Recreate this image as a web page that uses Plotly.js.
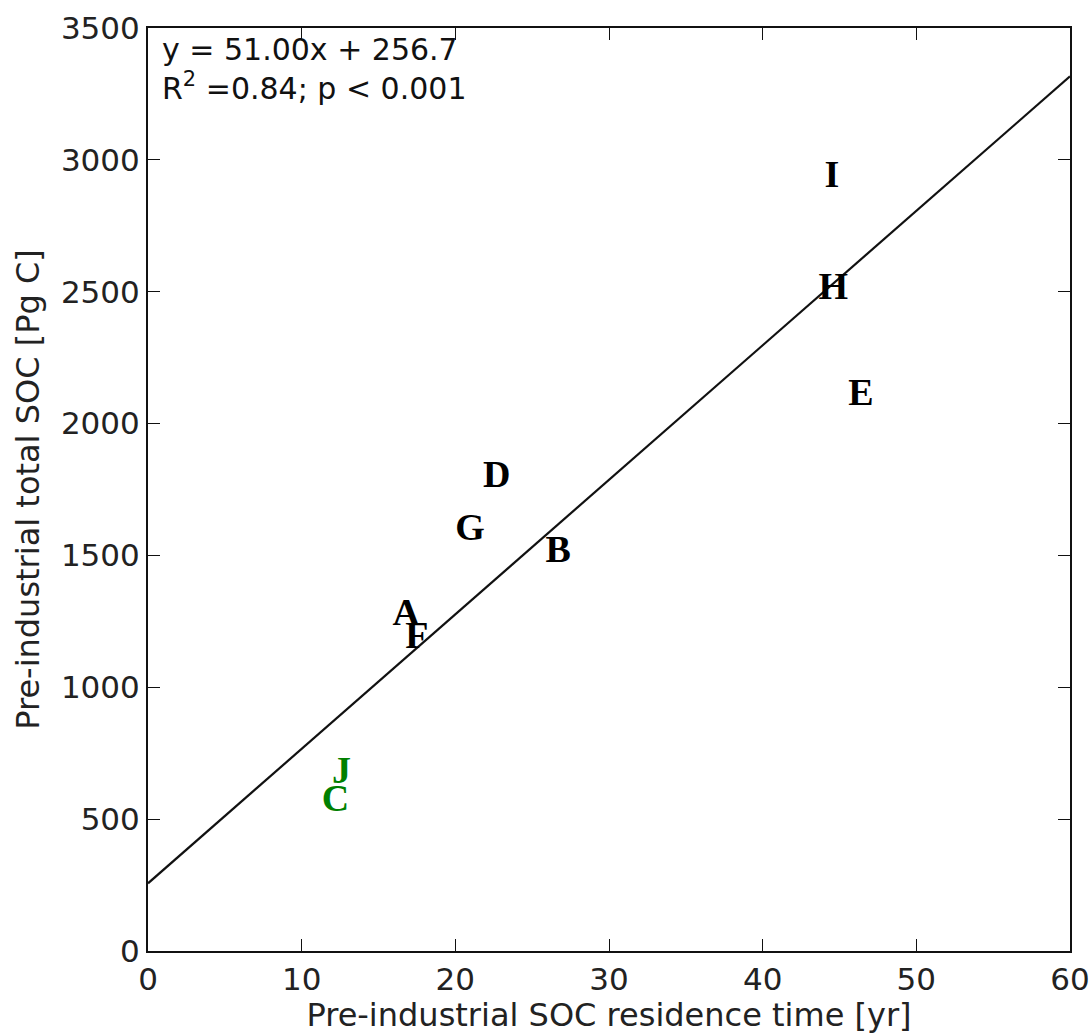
<!DOCTYPE html>
<html><head><meta charset="utf-8">
<script src="https://cdn.plot.ly/plotly-3.0.1.min.js"></script>
<style>body{margin:0;background:#fff}#chart{width:1089px;height:1034px}</style>
</head><body><div id="chart"></div>
<script>
const labels = ["A","B","C","D","E","F","G","H","I","J"];
const residence = [16.8, 26.7, 12.2, 22.7, 46.4, 17.5, 20.95, 44.6, 44.5, 12.6];
const totalSOC = [1273, 1512, 566, 1796, 2106, 1186, 1595, 2510, 2933, 674];
const colors = ["black","black","green","black","black","black","black","black","black","green"];
const slope = 51.00, intercept = 256.7;
const fitX = [0, 60];
const fitY = fitX.map(x => slope * x + intercept);

const tickFont = {family: "DejaVu Sans", size: 31, color: "#222"};
const titleFont = {family: "DejaVu Sans", size: 32, color: "#222"};
const annFont = {family: "DejaVu Sans", size: 30, color: "#111"};
const traces = [
  {x: fitX, y: fitY, mode: "lines", line: {color: "#111", width: 2.2}, hoverinfo: "skip"},
  {x: residence, y: totalSOC, mode: "text", text: labels, textposition: "middle center",
   textfont: {family: "Liberation Serif", size: 38, color: colors, weight: "bold"}}
];
const axisCommon = {showgrid: false, zeroline: false, showline: true, mirror: "ticks",
  linecolor: "#111", linewidth: 2, ticks: "inside", ticklen: 12, tickwidth: 1, tickcolor: "#111",
  tickfont: tickFont, ticklabeloverflow: "allow"};
const layout = {
  width: 1089, height: 1034, showlegend: false,
  paper_bgcolor: "#fff", plot_bgcolor: "#fff",
  margin: {l: 148, r: 19, t: 28, b: 83},
  xaxis: Object.assign({}, axisCommon, {range: [0, 60], dtick: 10,
    title: {text: "Pre-industrial SOC residence time [yr]", font: titleFont, standoff: 8}}),
  yaxis: Object.assign({}, axisCommon, {range: [0, 3500], dtick: 500,
    title: {text: "Pre-industrial total SOC [Pg C]", font: titleFont, standoff: 12}}),
  annotations: [
    {xref: "paper", yref: "paper", x: 0.013, y: 0.998, xanchor: "left", yanchor: "top", showarrow: false,
     align: "left", font: annFont,
     text: "y = 51.00x + 256.7<br>R<sup>2</sup> =0.84; p < 0.001"}
  ]
};
Plotly.newPlot("chart", traces, layout, {displayModeBar: false, staticPlot: true});
</script></body></html>
